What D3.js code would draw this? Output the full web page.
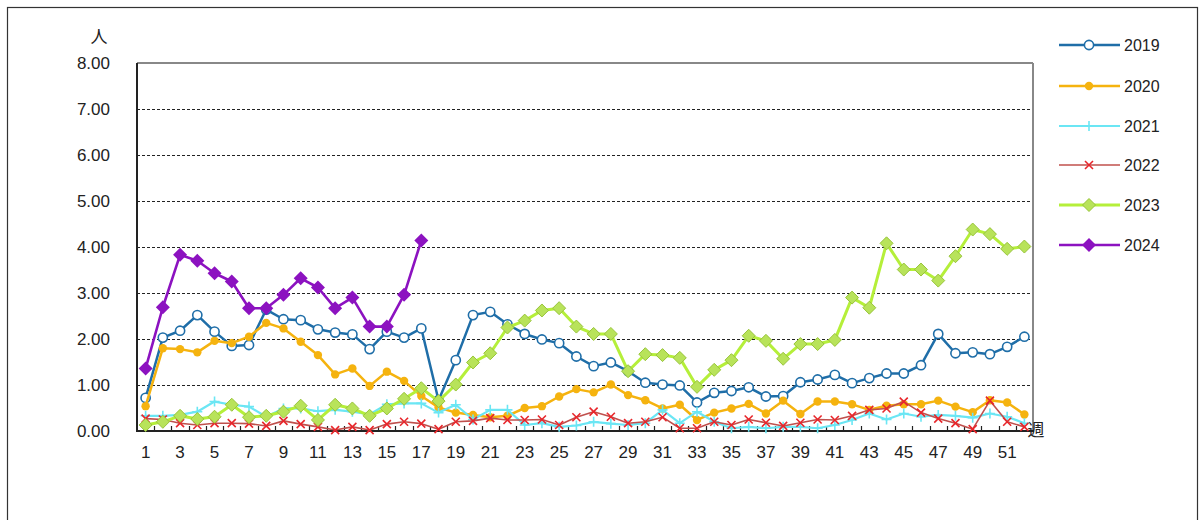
<!DOCTYPE html>
<html><head><meta charset="utf-8">
<script src="https://cdn.jsdelivr.net/npm/d3@7/dist/d3.min.js"></script>
<style>body{margin:0;background:#fff;}svg{display:block;font-family:Arial,"Liberation Sans",sans-serif;}</style>
</head><body>
<svg id="c" width="1203" height="520"></svg>
<script>
const weeks = d3.range(1, 53);
const yTicks = [0,1,2,3,4,5,6,7,8];
const y2019 = [0.72,2.03,2.18,2.52,2.16,1.85,1.87,2.64,2.43,2.41,2.21,2.14,2.10,1.78,2.16,2.03,2.23,0.67,1.54,2.52,2.59,2.32,2.11,1.99,1.91,1.62,1.41,1.49,1.30,1.05,1.01,0.99,0.62,0.83,0.87,0.95,0.75,0.76,1.06,1.12,1.22,1.04,1.15,1.25,1.25,1.43,2.11,1.69,1.71,1.67,1.83,2.05];
const y2020 = [0.54,1.80,1.78,1.71,1.96,1.91,2.05,2.35,2.23,1.94,1.65,1.23,1.36,0.98,1.29,1.09,0.76,0.51,0.40,0.35,0.30,0.33,0.50,0.54,0.75,0.91,0.84,1.01,0.78,0.67,0.49,0.57,0.24,0.40,0.49,0.59,0.38,0.66,0.37,0.64,0.64,0.58,0.46,0.55,0.58,0.58,0.66,0.53,0.41,0.67,0.62,0.36];
const y2021 = [0.33,0.33,0.35,0.42,0.64,0.57,0.53,0.31,0.49,0.49,0.43,0.46,0.42,0.36,0.58,0.60,0.60,0.40,0.57,0.25,0.46,0.46,0.13,0.17,0.09,0.12,0.20,0.16,0.13,0.17,0.46,0.17,0.42,0.20,0.06,0.09,0.06,0.09,0.09,0.06,0.13,0.24,0.38,0.25,0.38,0.31,0.35,0.33,0.29,0.38,0.31,0.17];
const y2022 = [0.27,0.25,0.17,0.13,0.17,0.17,0.16,0.11,0.22,0.15,0.09,0.02,0.09,0.02,0.15,0.20,0.16,0.04,0.20,0.22,0.28,0.24,0.24,0.25,0.13,0.30,0.42,0.31,0.17,0.20,0.30,0.06,0.06,0.20,0.13,0.25,0.18,0.11,0.18,0.25,0.24,0.33,0.46,0.49,0.64,0.40,0.27,0.17,0.04,0.66,0.20,0.09];
const y2023 = [0.13,0.20,0.33,0.26,0.31,0.57,0.30,0.33,0.42,0.55,0.24,0.57,0.49,0.33,0.49,0.70,0.93,0.65,1.01,1.49,1.69,2.25,2.40,2.62,2.67,2.27,2.11,2.11,1.30,1.67,1.65,1.59,0.96,1.33,1.54,2.07,1.96,1.57,1.89,1.89,1.98,2.90,2.68,4.08,3.51,3.51,3.27,3.80,4.38,4.28,3.96,4.01];
const y2024 = [1.36,2.69,3.83,3.70,3.43,3.25,2.67,2.67,2.96,3.32,3.12,2.67,2.90,2.27,2.27,2.96,4.14];

const series = [
  {name:"2019", values:y2019, color:"#1f6ea8", width:2.5, marker:"ocircle"},
  {name:"2020", values:y2020, color:"#f5b30f", width:2.5, marker:"dot"},
  {name:"2021", values:y2021, color:"#6be6f4", width:2.2, marker:"plus"},
  {name:"2022", values:y2022, color:"#c0504d", mcolor:"#e8262b", width:1.6, marker:"cross"},
  {name:"2023", values:y2023, color:"#b5ef3a", mfill:"#b8e35a", mstroke:"#98c43a", width:3, marker:"diamond"},
  {name:"2024", values:y2024, color:"#8c12c0", width:2.6, marker:"fdiamond"}
];

const svg = d3.select("#c");
const L = 137, R = 1033, T = 63, B = 431;
// outer frame
svg.append("rect").attr("x",7.5).attr("y",7.5).attr("width",1190).attr("height",540)
  .attr("fill","none").attr("stroke","#333").attr("stroke-width",1.2);

const x = d3.scaleBand().domain(weeks).range([L, R]).padding(0);
const y = d3.scaleLinear().domain([0, 8]).range([B, T]);

// gridlines
svg.append("g").selectAll("line").data(yTicks.filter(d => d > 0 && d < 8)).join("line")
  .attr("x1", L).attr("x2", R).attr("y1", d => Math.round(y(d)) + 0.5).attr("y2", d => Math.round(y(d)) + 0.5)
  .attr("stroke", "#222").attr("stroke-width", 1.2).attr("stroke-dasharray", "3,2");

// plot frame
svg.append("line").attr("x1",L).attr("x2",R).attr("y1",T).attr("y2",T).attr("stroke","#888").attr("stroke-width",2);
svg.append("line").attr("x1",R).attr("x2",R).attr("y1",T).attr("y2",B).attr("stroke","#888").attr("stroke-width",2);
svg.append("line").attr("x1",L).attr("x2",L).attr("y1",T).attr("y2",B).attr("stroke","#222").attr("stroke-width",2);

// y axis labels
const yAxis = d3.axisLeft(y).tickValues(yTicks).tickFormat(d3.format(".2f")).tickSize(0).tickPadding(27);
const gy = svg.append("g").attr("transform", `translate(${L},0)`).call(yAxis);
gy.select(".domain").remove();
gy.selectAll("text").attr("font-size", 17).attr("fill", "#222").attr("font-family","Arial,'Liberation Sans',sans-serif");
svg.append("text").attr("x", 99).attr("y", 43).attr("text-anchor","middle").attr("font-size",17).attr("fill","#222")
  .attr("font-family","'Noto Sans CJK JP',sans-serif").text("人");

// x axis
const xAxis = d3.axisBottom(x).tickValues(weeks.filter(d => d % 2 === 1)).tickSize(0).tickPadding(15);
const gx = svg.append("g").attr("transform", `translate(0,${B})`).call(xAxis);
gx.select(".domain").remove();
gx.selectAll("text").attr("font-size", 17).attr("fill", "#222").attr("font-family","Arial,'Liberation Sans',sans-serif");
// category boundary ticks (inside)
svg.append("g").selectAll("line").data(weeks.slice(1)).join("line")
  .attr("x1", d => Math.round(x(d)) + 0.5).attr("x2", d => Math.round(x(d)) + 0.5)
  .attr("y1", B).attr("y2", B - 5).attr("stroke", "#222").attr("stroke-width", 1.2);
svg.append("line").attr("x1",L-1).attr("x2",R+1).attr("y1",B).attr("y2",B).attr("stroke","#222").attr("stroke-width",2);
svg.append("text").attr("x", 1036).attr("y", 436).attr("text-anchor","middle").attr("font-size",17).attr("fill","#222")
  .attr("font-family","'Noto Sans CJK JP',sans-serif").text("週");

function drawMarker(g, s, cx, cy, scale) {
  const k = scale || 1;
  const mc = s.mcolor || s.color;
  if (s.marker === "ocircle") {
    g.append("circle").attr("cx",cx).attr("cy",cy).attr("r",4.6*k).attr("fill","#fff").attr("stroke",s.color).attr("stroke-width",1.6);
  } else if (s.marker === "dot") {
    g.append("circle").attr("cx",cx).attr("cy",cy).attr("r",4.2*k).attr("fill",s.color);
  } else if (s.marker === "plus") {
    const r = 5*k;
    g.append("path").attr("d",`M${cx-r},${cy}H${cx+r}M${cx},${cy-r}V${cy+r}`).attr("stroke",mc).attr("stroke-width",1.6);
  } else if (s.marker === "cross") {
    const r = 4*k;
    g.append("path").attr("d",`M${cx-r},${cy-r}L${cx+r},${cy+r}M${cx-r},${cy+r}L${cx+r},${cy-r}`).attr("stroke",mc).attr("stroke-width",1.6);
  } else if (s.marker === "diamond") {
    const r = 6.5*k;
    g.append("path").attr("d",`M${cx},${cy-r}L${cx+r},${cy}L${cx},${cy+r}L${cx-r},${cy}Z`).attr("fill",s.mfill).attr("stroke",s.mstroke).attr("stroke-width",1);
  } else if (s.marker === "fdiamond") {
    const r = 7*k;
    g.append("path").attr("d",`M${cx},${cy-r}L${cx+r},${cy}L${cx},${cy+r}L${cx-r},${cy}Z`).attr("fill",s.color);
  }
}

const cx = w => x(w) + x.bandwidth()/2;
const line = d3.line().x((d,i) => cx(weeks[i])).y(d => y(d));
series.forEach(s => {
  const g = svg.append("g");
  g.append("path").datum(s.values).attr("d", line).attr("fill","none").attr("stroke",s.color)
    .attr("stroke-width",s.width).attr("stroke-linejoin","round");
  s.values.forEach((v,i) => drawMarker(g, s, cx(weeks[i]), y(v)));
});

// legend
const legY = [45, 86, 126, 165, 205, 245];
series.forEach((s,i) => {
  const g = svg.append("g");
  const yy = legY[i];
  g.append("line").attr("x1",1059).attr("x2",1120).attr("y1",yy).attr("y2",yy).attr("stroke",s.color).attr("stroke-width",s.width);
  drawMarker(g, s, 1089, yy);
  g.append("text").attr("x",1124).attr("y",yy+6).attr("font-size",16).attr("fill","#222").text(s.name);
});
</script>
</body></html>
